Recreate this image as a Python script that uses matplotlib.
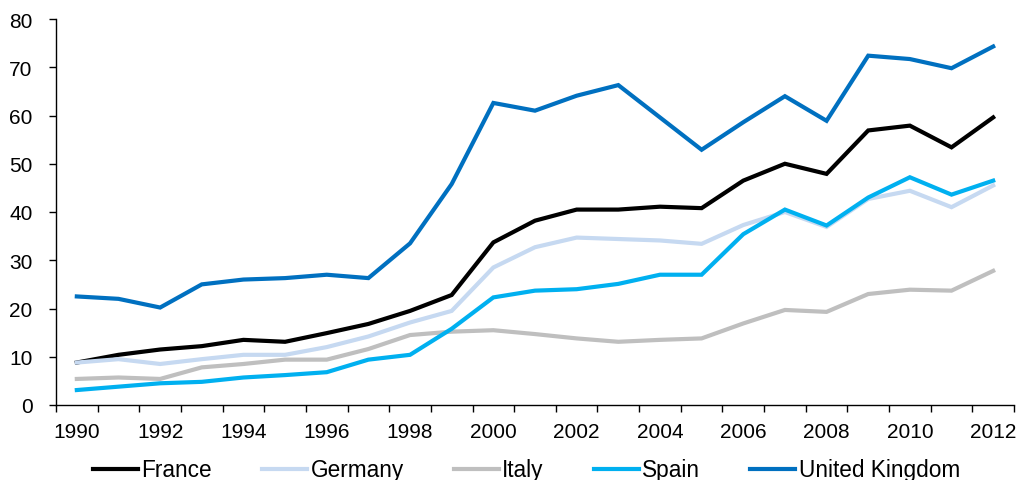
import numpy as np
import matplotlib
matplotlib.use('Agg')
import matplotlib.pyplot as plt

plt.rcParams['font.family'] = ['Liberation Sans', 'DejaVu Sans']

years = list(range(1990, 2013))

france = [8.8, 10.4, 11.5, 12.2, 13.5, 13.1, 14.9, 16.8, 19.5, 22.8, 33.7, 38.2,
          40.5, 40.5, 41.1, 40.8, 46.5, 50.0, 47.9, 56.9, 57.9, 53.4, 59.6]
germany = [8.8, 9.5, 8.5, 9.5, 10.4, 10.4, 12.0, 14.2, 17.1, 19.5, 28.5, 32.7,
           34.7, 34.4, 34.1, 33.4, 37.3, 40.0, 36.9, 42.7, 44.4, 41.0, 45.5]
italy = [5.4, 5.7, 5.4, 7.8, 8.5, 9.4, 9.4, 11.6, 14.5, 15.2, 15.5, 14.7,
         13.8, 13.1, 13.5, 13.8, 16.9, 19.7, 19.3, 23.0, 23.9, 23.7, 27.8]
spain = [3.1, 3.8, 4.5, 4.8, 5.7, 6.2, 6.8, 9.4, 10.4, 15.8, 22.3, 23.7,
         24.0, 25.1, 27.0, 27.0, 35.4, 40.5, 37.2, 43.0, 47.2, 43.6, 46.5]
uk = [22.5, 22.0, 20.2, 25.0, 26.0, 26.3, 27.0, 26.3, 33.5, 45.8, 62.6, 61.0,
      64.1, 66.3, 59.6, 52.9, 58.6, 64.0, 58.9, 72.4, 71.7, 69.8, 74.3]

series = [('France', france, '#000000'),
          ('Germany', germany, '#C6D9F1'),
          ('Italy', italy, '#BFBFBF'),
          ('Spain', spain, '#00B0F0'),
          ('United Kingdom', uk, '#0070C0')]

fig = plt.figure(figsize=(10.2, 4.81), dpi=100)
ax = fig.add_axes([56/1020, 75/481, (1014-56)/1020, (406-20)/481])

x = np.arange(len(years))
for name, vals, col in series:
    ax.plot(x, vals, color=col, lw=3.0, label=name, solid_joinstyle='miter')

ax.set_xlim(-0.5, len(years) - 0.5)
ax.set_ylim(0, 80)
ax.set_yticks(range(0, 81, 10))

# category boundaries as ticks, labels on every other year
ax.set_xticks(np.arange(-0.5, len(years), 1))
ax.set_xticklabels([])
ax.set_xticks(x[::2], minor=True)
ax.set_xticklabels([str(y) for y in years[::2]], minor=True)
ax.tick_params(axis='x', which='minor', length=0, pad=12, labelsize=15)
ax.tick_params(axis='x', which='major', length=5, direction='out', width=1)
ax.tick_params(axis='y', length=5, direction='out', width=1, labelsize=15, pad=12)

for s in ['top', 'right']:
    ax.spines[s].set_visible(False)
for s in ['left', 'bottom']:
    ax.spines[s].set_linewidth(1)

fig.legend(loc='center', bbox_to_anchor=(0.516, 1 - 471/481), ncol=5, frameon=False,
           fontsize=16.3, handlelength=2.0, handletextpad=0.15, columnspacing=2.2)

fig.savefig('out.png', dpi=100)
